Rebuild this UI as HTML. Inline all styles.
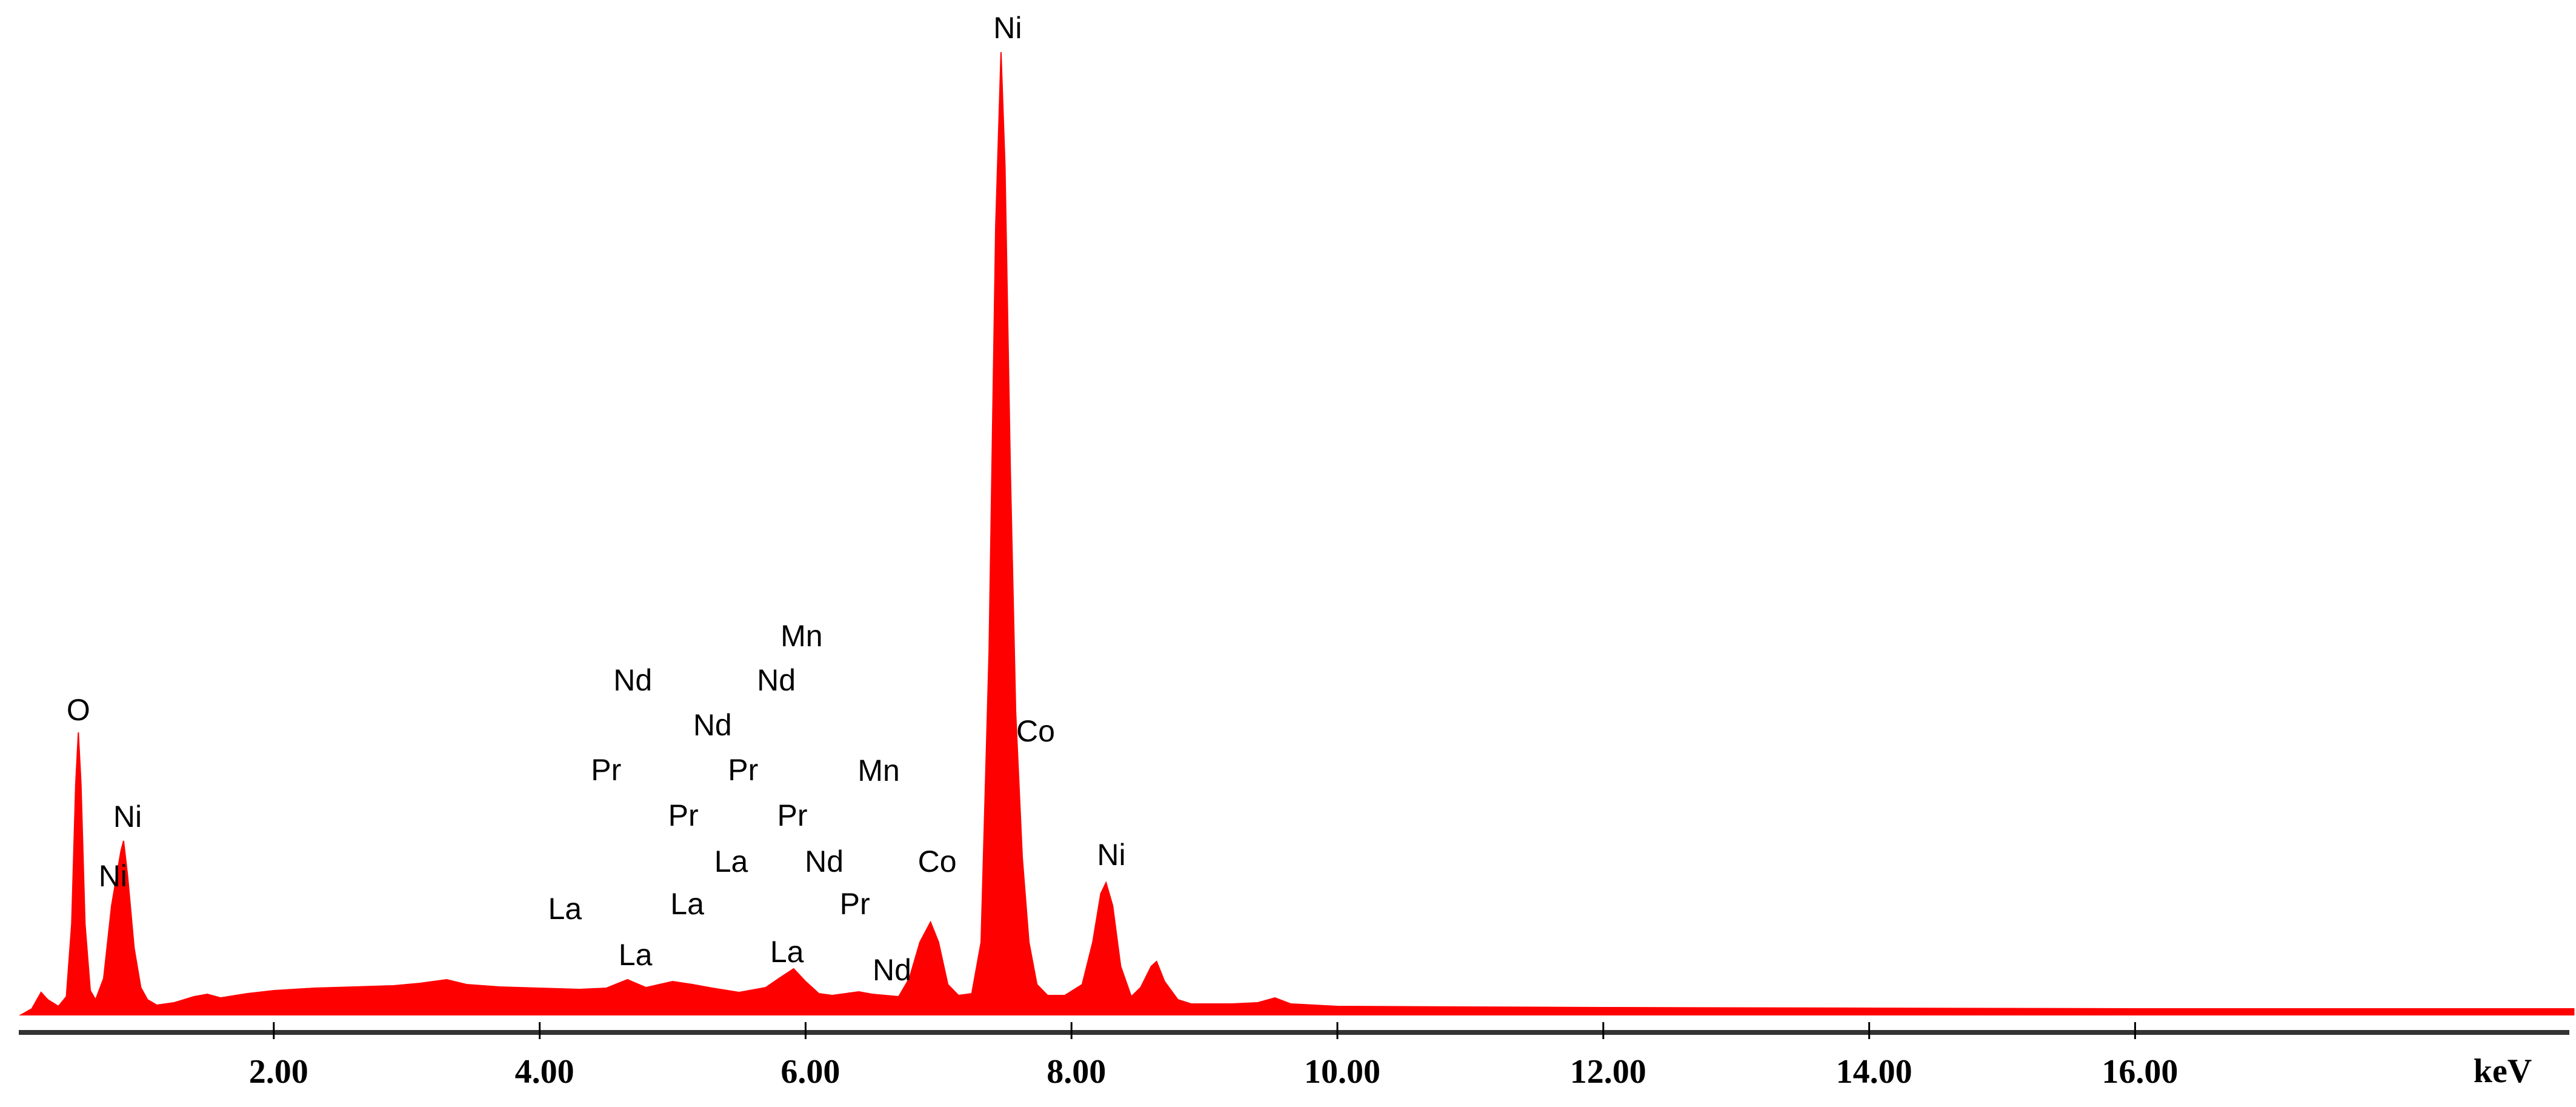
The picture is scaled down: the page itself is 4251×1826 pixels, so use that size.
<!DOCTYPE html>
<html><head><meta charset="utf-8"><title>EDS spectrum</title>
<style>
html,body{margin:0;padding:0;background:#fff;}
svg{display:block;}
.el{font-family:"Liberation Sans",sans-serif;font-size:50px;fill:#000;text-anchor:middle;dominant-baseline:central;}
.tick{font-family:"Liberation Serif",serif;font-weight:bold;font-size:56px;fill:#000;text-anchor:middle;dominant-baseline:central;}
</style></head>
<body>
<svg id="chart" width="4251" height="1826" viewBox="0 0 4251 1826" xmlns="http://www.w3.org/2000/svg">
<rect x="0" y="0" width="4251" height="1826" fill="#fff"/>
<g id="spec"></g>
<g id="axis"></g>
<g id="labels"></g>
</svg>
<script>
// spectrum data: energy (keV) and intensity (arbitrary counts)
const energies = [0.10,0.18,0.25,0.30,0.38,0.44,0.48,0.51,0.53,0.55,0.58,0.62,0.66,0.72,0.78,0.85,0.87,0.90,0.95,1.00,1.05,1.12,1.25,1.40,1.50,1.60,1.80,2.0,2.3,2.6,2.9,3.1,3.3,3.45,3.7,4.0,4.3,4.5,4.66,4.8,5.0,5.15,5.3,5.5,5.7,5.8,5.91,6.0,6.1,6.2,6.4,6.5,6.7,6.78,6.86,6.94,7.0,7.07,7.15,7.25,7.32,7.38,7.43,7.47,7.5,7.54,7.58,7.63,7.68,7.74,7.82,7.95,8.08,8.16,8.22,8.26,8.31,8.37,8.45,8.52,8.6,8.64,8.7,8.8,8.9,9.2,9.4,9.53,9.65,10,12,14,16,18,19.3];
const counts = [0,10,37,25,14,30,150,380,466,380,150,40,25,60,180,270,287,230,110,45,25,16,20,30,34,28,35,40,44,46,48,52,58,50,46,44,42,44,58,45,55,50,44,37,45,60,76,55,35,32,38,34,30,60,120,153,120,50,32,35,120,600,1300,1588,1400,900,500,260,120,50,32,32,50,120,200,218,180,80,30,45,80,88,55,25,18,18,20,28,18,14,12,11,10,10,10];
const tickValues = [2,4,6,8,10,12,14,16];
const tickLabels = ["2.00","4.00","6.00","8.00","10.00","12.00","14.00","16.00"];
const peakNames = ["Ni","O","Ni","Ni","Mn","Nd","Nd","Nd","Pr","Pr","Mn","Pr","Pr","La","Nd","Co","La","La","Pr","La","La","Nd","Co","Ni"];
const peakLabelE = [7.52,0.53,0.90,0.79,5.97,4.70,5.78,5.30,4.50,5.53,6.55,5.08,5.90,5.44,6.14,6.99,4.19,5.11,6.37,4.72,5.86,6.65,7.73,8.30];
const peakLabelY = [1628,503,327,229,625,552,552,478,404,404,403,329,329,253,253,253,175,183,183,99,104,74,468,264];

const NS="http://www.w3.org/2000/svg";
const X0=13, KX=219.4, BASE=1674, KY=1.0;
function xs(e){return X0+KX*e;}
function ys(c){return BASE-KY*c;}

const spec=document.getElementById('spec');
let d="M"+xs(energies[0]).toFixed(1)+","+BASE;
for(let i=0;i<energies.length;i++){d+=" L"+xs(energies[i]).toFixed(1)+","+ys(counts[i]).toFixed(1);}
d+=" L"+xs(energies[energies.length-1]).toFixed(1)+","+BASE+" Z";
const p=document.createElementNS(NS,'path');
p.setAttribute('d',d);p.setAttribute('fill','#ff0000');p.setAttribute('stroke','#ff0000');p.setAttribute('stroke-width','2');


spec.appendChild(p);

const ax=document.getElementById('axis');
const line=document.createElementNS(NS,'rect');
line.setAttribute('x','31');line.setAttribute('y','1699');line.setAttribute('width','4209');line.setAttribute('height','8');line.setAttribute('fill','#333');


ax.appendChild(line);
for(let i=0;i<tickValues.length;i++){
  const x=xs(tickValues[i]);
  const t=document.createElementNS(NS,'line');
  t.setAttribute('x1',x);t.setAttribute('x2',x);t.setAttribute('y1','1686');t.setAttribute('y2','1714');
  t.setAttribute('stroke','#000');t.setAttribute('stroke-width','3');
  
  
  ax.appendChild(t);
  const tx=document.createElementNS(NS,'text');
  tx.setAttribute('x',x+8);tx.setAttribute('y','1768');tx.setAttribute('class','tick');
  tx.textContent=tickLabels[i];
  
  
  ax.appendChild(tx);
}
const kev=document.createElementNS(NS,'text');
kev.setAttribute('x','4130');kev.setAttribute('y','1767');kev.setAttribute('class','tick');
kev.textContent='keV';


ax.appendChild(kev);

const lb=document.getElementById('labels');
for(let i=0;i<peakNames.length;i++){
  const t=document.createElementNS(NS,'text');
  t.setAttribute('x',xs(peakLabelE[i]).toFixed(1));
  t.setAttribute('y',ys(peakLabelY[i]).toFixed(1));
  t.setAttribute('class','el');
  t.textContent=peakNames[i];
  
  
  lb.appendChild(t);
}
</script>
</body></html>
